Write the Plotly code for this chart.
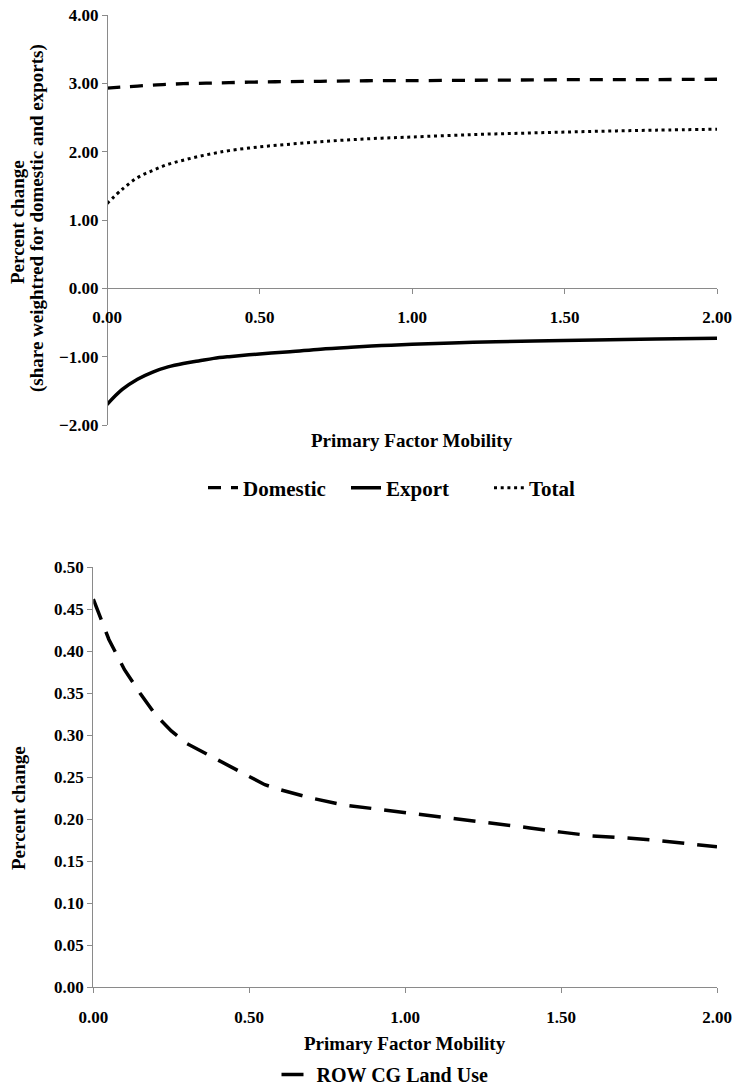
import plotly.graph_objects as go

# ---- Data ----
mobility_top = [0, 0.05, 0.1, 0.15, 0.2, 0.25, 0.3, 0.35, 0.4, 0.5, 0.6, 0.7,
                0.8, 0.9, 1.0, 1.2, 1.4, 1.6, 1.8, 2.0]
domestic = [2.93, 2.945, 2.96, 2.975, 2.985, 2.995, 3.0, 3.005, 3.01, 3.02, 3.025,
            3.03, 3.035, 3.04, 3.04, 3.045, 3.05, 3.055, 3.055, 3.06]
export = [-1.70, -1.48, -1.33, -1.225, -1.15, -1.10, -1.063, -1.025, -1.0, -0.96,
          -0.928, -0.89, -0.862, -0.838, -0.82, -0.79, -0.772, -0.757, -0.742, -0.732]
total = [1.24, 1.45, 1.62, 1.725, 1.815, 1.875, 1.93, 1.975, 2.015, 2.07, 2.11,
         2.145, 2.175, 2.198, 2.215, 2.25, 2.275, 2.297, 2.315, 2.328]

mobility_bottom = [0, 0.05, 0.1, 0.15, 0.2, 0.25, 0.3, 0.4, 0.5, 0.55, 0.6, 0.7,
                   0.8, 0.9, 1.0, 1.1, 1.2, 1.3, 1.4, 1.5, 1.6, 1.7, 1.8, 1.9, 2.0]
row_cg_land = [0.462, 0.414, 0.378, 0.350, 0.324, 0.305, 0.290, 0.270, 0.250,
               0.241, 0.235, 0.225, 0.217, 0.2125, 0.208, 0.2035, 0.1995, 0.195,
               0.1895, 0.1845, 0.180, 0.1778, 0.175, 0.171, 0.167]

x_ticks = [0, 0.5, 1.0, 1.5, 2.0]
top_y_ticks = [-2, -1, 0, 1, 2, 3, 4]
bottom_y_ticks = [0, 0.05, 0.1, 0.15, 0.2, 0.25, 0.3, 0.35, 0.4, 0.45, 0.5]

W, H = 733, 1088
FONT = "Liberation Serif"
AXIS_GRAY = "#8a8a8a"


def px_x(v):
    return v / W


def px_y(v):
    return 1 - v / H


top_dom_y = [px_y(425), px_y(15)]
bot_dom_y = [px_y(987), px_y(567.3)]

fig = go.Figure()

fig.add_trace(go.Scatter(x=mobility_top, y=domestic, name="Domestic", mode="lines",
                         line=dict(color="black", width=3.3, dash="13px,10px", shape="spline"),
                         xaxis="x", yaxis="y", legend="legend"))
fig.add_trace(go.Scatter(x=mobility_top, y=export, name="Export", mode="lines",
                         line=dict(color="black", width=3.5, shape="spline"),
                         xaxis="x", yaxis="y", legend="legend"))
fig.add_trace(go.Scatter(x=mobility_top, y=total, name="Total", mode="lines",
                         line=dict(color="black", width=3, dash="3px,3.7px", shape="spline"),
                         xaxis="x", yaxis="y", legend="legend"))
fig.add_trace(go.Scatter(x=mobility_bottom, y=row_cg_land, name="ROW CG Land Use", mode="lines",
                         line=dict(color="black", width=3.5, dash="22px,13px"),
                         xaxis="x2", yaxis="y2", legend="legend2"))

tickfont = dict(family=FONT, size=17, color="black", weight="bold")
common_axis = dict(showline=True, linecolor=AXIS_GRAY, linewidth=1.2, ticks="outside",
                   ticklen=5, tickcolor=AXIS_GRAY, showgrid=False, zeroline=False,
                   tickfont=tickfont, automargin=False, fixedrange=True,
                   ticklabeloverflow="allow")

zero_pos = top_dom_y[0] + (0 - (-2)) / 6 * (top_dom_y[1] - top_dom_y[0])

fig.update_layout(
    width=W, height=H,
    margin=dict(l=0, r=0, t=0, b=0, autoexpand=False),
    paper_bgcolor="white", plot_bgcolor="white",
    xaxis=dict(domain=[px_x(107), px_x(717)], range=[0, 2], tickvals=x_ticks,
               tickformat=".2f", anchor="free", position=zero_pos,
               ticklabelstandoff=8, **common_axis),
    yaxis=dict(domain=top_dom_y, range=[-2, 4], tickvals=top_y_ticks, tickformat=".2f",
               anchor="free", position=px_x(107), **common_axis),
    xaxis2=dict(domain=[px_x(93.3), px_x(717)], range=[0, 2], tickvals=x_ticks,
                tickformat=".2f", anchor="y2", ticklabelstandoff=9, **common_axis),
    yaxis2=dict(domain=bot_dom_y, range=[0, 0.5], tickvals=bottom_y_ticks,
                tickformat=".2f", anchor="x2", **common_axis),
    legend=dict(orientation="h", x=px_x(203), y=px_y(488), xanchor="left", yanchor="middle",
                font=dict(family=FONT, size=21, color="black", weight="bold"),
                bgcolor="rgba(0,0,0,0)", entrywidth=98, entrywidthmode="pixels"),
    legend2=dict(orientation="h", x=px_x(385), y=px_y(1094), xanchor="center",
                 yanchor="bottom",
                 font=dict(family=FONT, size=20, color="black", weight="bold"),
                 bgcolor="rgba(0,0,0,0)"),
    showlegend=True,
)

title_font = dict(family=FONT, size=19, color="black", weight="bold")
fig.add_annotation(text="Percent change",
                   x=px_x(17), y=px_y(222), xref="paper", yref="paper", textangle=-90,
                   showarrow=False, xanchor="center", yanchor="middle", font=title_font)
fig.add_annotation(text="(share weightred for domestic and exports)",
                   x=px_x(37), y=px_y(218), xref="paper", yref="paper", textangle=-90,
                   showarrow=False, xanchor="center", yanchor="middle", font=title_font)
fig.add_annotation(text="Primary Factor Mobility", x=px_x(412), y=px_y(440), xref="paper",
                   yref="paper", showarrow=False, xanchor="center", yanchor="middle",
                   font=title_font)
fig.add_annotation(text="Percent change", x=px_x(18), y=px_y(808), xref="paper",
                   yref="paper", textangle=-90, showarrow=False, xanchor="center",
                   yanchor="middle", font=title_font)
fig.add_annotation(text="Primary Factor Mobility", x=px_x(405), y=px_y(1043), xref="paper",
                   yref="paper", showarrow=False, xanchor="center", yanchor="middle",
                   font=title_font)

# Remove the default 8px body margin so the figure sits at the window's top-left corner.
fig.write_html("out.html", config={"displayModeBar": False},
               post_script="document.body.style.margin='0px';")
